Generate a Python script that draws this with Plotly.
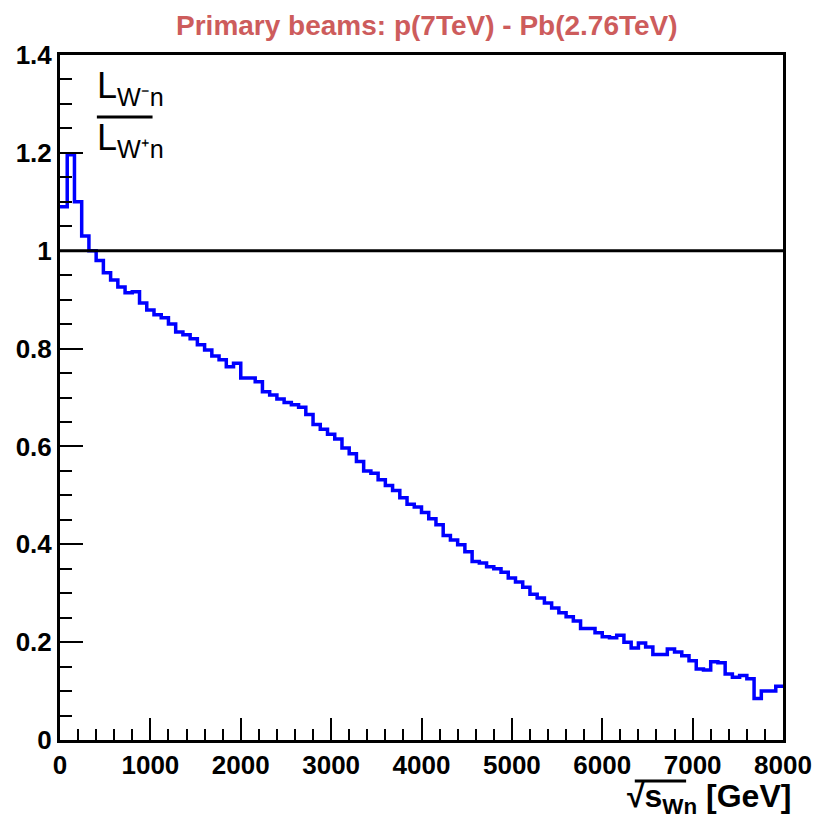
import numpy as np
import plotly.graph_objects as go

# ---- data ----
BIN_WIDTH = 80  # GeV
ratio_values = [
    1.09, 1.196, 1.10, 1.03, 1.00, 0.98, 0.955, 0.94, 0.926, 0.914,
    0.916, 0.893, 0.879, 0.869, 0.863, 0.85, 0.834, 0.828, 0.82, 0.808,
    0.797, 0.785, 0.777, 0.763, 0.77, 0.74, 0.74, 0.732, 0.712, 0.705,
    0.697, 0.69, 0.685, 0.68, 0.665, 0.645, 0.635, 0.625, 0.615, 0.597,
    0.585, 0.569, 0.55, 0.545, 0.532, 0.52, 0.51, 0.495, 0.482, 0.476,
    0.465, 0.452, 0.44, 0.418, 0.409, 0.399, 0.385, 0.365, 0.362, 0.354,
    0.35, 0.343, 0.331, 0.323, 0.312, 0.298, 0.29, 0.28, 0.27, 0.26,
    0.252, 0.243, 0.228, 0.228, 0.219, 0.211, 0.209, 0.214, 0.2, 0.188,
    0.198, 0.19, 0.175, 0.175, 0.186, 0.18, 0.172, 0.162, 0.145, 0.143,
    0.16, 0.158, 0.135, 0.128, 0.132, 0.125, 0.085, 0.1, 0.1, 0.11,
]
x_ticks = [0, 1000, 2000, 3000, 4000, 5000, 6000, 7000, 8000]
y_ticks = [0, 0.2, 0.4, 0.6, 0.8, 1.0, 1.2, 1.4]
y_tick_labels = ["0", "0.2", "0.4", "0.6", "0.8", "1", "1.2", "1.4"]
reference_level = 1.0

edges = np.arange(len(ratio_values) + 1) * BIN_WIDTH
y_step = ratio_values + [ratio_values[-1]]

FONT = "Liberation Sans, Arial"

fig = go.Figure()
fig.add_trace(go.Scatter(
    x=edges, y=y_step, mode="lines", line_shape="hv",
    line=dict(color="#0000ff", width=3.5), showlegend=False, hoverinfo="skip",
))

fig.add_shape(type="line", xref="paper", x0=0, x1=1, yref="y",
              y0=reference_level, y1=reference_level,
              line=dict(color="black", width=3))

axis_common = dict(
    showgrid=False, zeroline=False, showline=True, linecolor="black",
    linewidth=3, mirror=True, ticks="inside", tickcolor="black",
    tickwidth=2,
    tickfont=dict(family=FONT, size=26, color="black", weight="bold"),
)

fig.update_xaxes(range=[0, 8000], tickvals=x_ticks,
                 ticktext=[str(v) for v in x_ticks], ticklen=22,
                 minor=dict(dtick=200, ticklen=11, ticks="inside",
                            tickcolor="black", tickwidth=2),
                 **axis_common)
fig.update_yaxes(range=[0, 1.4], tickvals=y_ticks, ticktext=y_tick_labels,
                 ticklen=23,
                 minor=dict(dtick=0.05, ticklen=12, ticks="inside",
                            tickcolor="black", tickwidth=2),
                 **axis_common)

# fraction label inside the plot
fig.add_annotation(xref="paper", yref="paper", x=0.048, y=0.952,
                   xanchor="left", yanchor="middle", showarrow=False,
                   text="L<sub>W⁻n</sub>",
                   font=dict(family=FONT, size=36, color="black"))
fig.add_annotation(xref="paper", yref="paper", x=0.048, y=0.876,
                   xanchor="left", yanchor="middle", showarrow=False,
                   text="L<sub>W⁺n</sub>",
                   font=dict(family=FONT, size=36, color="black"))
fig.add_shape(type="line", xref="paper", yref="paper", x0=0.051, x1=0.128,
              y0=0.9095, y1=0.9095, line=dict(color="black", width=3))

# x-axis title with square-root bar
fig.add_annotation(xref="paper", yref="paper", x=1.014, y=-0.085,
                   xanchor="right", yanchor="middle", showarrow=False,
                   text="√s<sub>Wn</sub> [GeV]",
                   font=dict(family=FONT, size=32, color="black", weight="bold"))
fig.add_shape(type="line", xref="paper", yref="paper", x0=0.795, x1=0.866,
              y0=-0.06, y1=-0.06, line=dict(color="black", width=3))

fig.update_layout(
    width=824, height=826,
    margin=dict(l=60, r=35, t=55, b=86),
    paper_bgcolor="white", plot_bgcolor="white",
    title=dict(text="Primary beams: p(7TeV) - Pb(2.76TeV)",
               x=0.518, xanchor="center", xref="container",
               y=0.97, yanchor="middle", yref="container",
               font=dict(family=FONT, size=28, color="#cd5c5c", weight="bold")),
)

fig.write_html("out.html")
